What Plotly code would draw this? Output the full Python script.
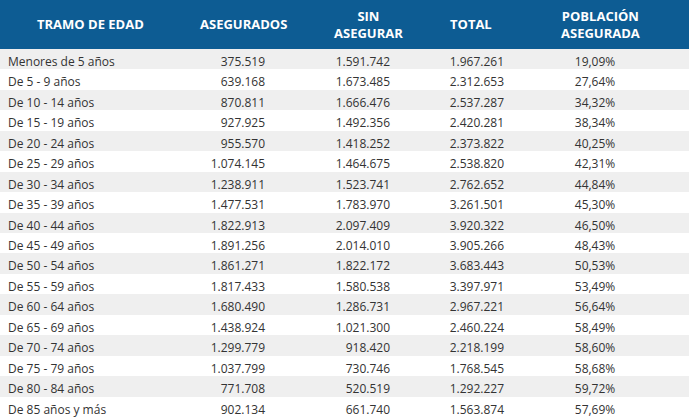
import plotly.graph_objects as go

headers = ['TRAMO DE EDAD', 'ASEGURADOS', 'SIN<br>ASEGURAR', 'TOTAL', 'POBLACIÓN<br>ASEGURADA']

tramos = ['Menores de 5 años', 'De 5 - 9 años', 'De 10 - 14 años', 'De 15 - 19 años',
          'De 20 - 24 años', 'De 25 - 29 años', 'De 30 - 34 años', 'De 35 - 39 años',
          'De 40 - 44 años', 'De 45 - 49 años', 'De 50 - 54 años', 'De 55 - 59 años',
          'De 60 - 64 años', 'De 65 - 69 años', 'De 70 - 74 años', 'De 75 - 79 años',
          'De 80 - 84 años', 'De 85 años y más']
asegurados = [375519, 639168, 870811, 927925, 955570, 1074145, 1238911, 1477531, 1822913,
              1891256, 1861271, 1817433, 1680490, 1438924, 1299779, 1037799, 771708, 902134]
sin_asegurar = [1591742, 1673485, 1666476, 1492356, 1418252, 1464675, 1523741, 1783970, 2097409,
                2014010, 1822172, 1580538, 1286731, 1021300, 918420, 730746, 520519, 661740]
total = [1967261, 2312653, 2537287, 2420281, 2373822, 2538820, 2762652, 3261501, 3920322,
         3905266, 3683443, 3397971, 2967221, 2460224, 2218199, 1768545, 1292227, 1563874]
poblacion = [19.09, 27.64, 34.32, 38.34, 40.25, 42.31, 44.84, 45.30, 46.50,
             48.43, 50.53, 53.49, 56.64, 58.49, 58.60, 58.68, 59.72, 57.69]


def miles(v):
    return f'{v:,}'.replace(',', '.')


def pct(p):
    return f'{p:.2f}%'.replace('.', ',')


W, H = 689, 417
head_h = 49
row_h = (H - head_h) / len(tramos)

blue = '#0d5c93'
row_colors = ['#efefef' if i % 2 == 0 else '#ffffff' for i in range(len(tramos))]
font = 'Open Sans, sans-serif'

body = [tramos, [miles(v) for v in asegurados], [miles(v) for v in sin_asegurar],
        [miles(v) for v in total], [pct(p) for p in poblacion], [''] * len(tramos)]

fig = go.Figure(go.Table(
    columnwidth=[180, 93, 125, 114, 166, 11],
    header=dict(values=[''] * 6, height=head_h, fill_color=blue,
                line=dict(color=blue, width=0)),
    cells=dict(values=body, height=row_h,
               fill_color=[row_colors] * 6, line=dict(color=[row_colors] * 6, width=0),
               align=['left', 'right', 'right', 'right', 'center', 'center'],
               font=dict(family=font, size=12, color='#333333')),
))

# header labels centred over their own column spans
head_x = [90, 243, 368, 471, 600]
for h, x in zip(headers, head_x):
    fig.add_annotation(x=x / W, y=1 - head_h / 2 / H, xref='paper', yref='paper',
                       xanchor='center', yanchor='middle',
                       text=f'<b>{h}</b>', showarrow=False, align='center',
                       font=dict(family=font, size=13, color='white'))

fig.update_layout(width=W, height=H, margin=dict(l=0, r=0, t=0, b=0),
                  paper_bgcolor='white')
fig.write_html('out.html', config={'displayModeBar': False},
               post_script="document.body.style.margin='0';")
